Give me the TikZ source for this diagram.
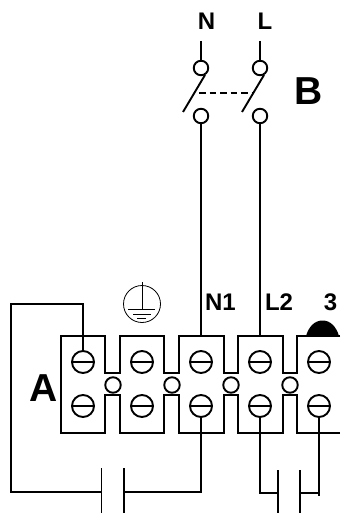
\documentclass[tikz,border=0pt]{standalone}
\usepackage{fontspec}
\setmainfont{Liberation Sans}
\begin{document}
\begin{tikzpicture}[x=1pt,y=-1pt,
  wire/.style={line width=1.9pt,line cap=butt,line join=miter},
  screwhead/.style={circle,draw,line width=1.9pt,minimum size=22pt,inner sep=0pt,
    path picture={\draw[line width=1.7pt] (path picture bounding box.west) -- (path picture bounding box.east);}},
  link/.style={circle,draw,line width=1.9pt,minimum size=15.5pt,inner sep=0pt},
  contact/.style={circle,draw,line width=1.9pt,minimum size=14.5pt,inner sep=0pt},
  lab/.style={font=\bfseries\fontsize{24}{24}\selectfont,inner sep=0pt,text height=17.2pt,text depth=0pt},
  biglab/.style={font=\bfseries\fontsize{39}{39}\selectfont,inner sep=0pt,text height=28pt,text depth=0pt}]
\useasboundingbox (0,0) rectangle (340,513);
\begin{scope}
\clip (0,0) rectangle (340,513);
% terminal block
\draw[wire] (340,336) -- (297,336) -- (297,373) -- (283,373) -- (283,336) -- (238,336) -- (238,373) -- (224,373) -- (224,336) -- (179,336) -- (179,373) -- (164,373) -- (164,336) -- (120,336) -- (120,373) -- (105,373) -- (105,336) -- (61,336) -- (61,433) -- (105,433) -- (105,395) -- (120,395) -- (120,433) -- (164,433) -- (164,395) -- (179,395) -- (179,433) -- (224,433) -- (224,395) -- (238,395) -- (238,433) -- (283,433) -- (283,395) -- (297,395) -- (297,433) -- (340,433);
\foreach \n/\x in {1/83,2/142,3/201,4/260,5/319}{
  \node[screwhead] (t\n) at (\x,362) {};
  \node[screwhead] (b\n) at (\x,406) {};
}
\foreach \n/\x in {1/113,2/172,3/231,4/290}{
  \node[link,fill=white] (k\n) at (\x,385) {};
}
% dome
\fill (306,336) .. controls (309,326) and (315,320.5) .. (322.5,320.5) .. controls (330,320.5) and (336,326) .. (339,336) -- cycle;
\end{scope}
% switch
\node[contact] (cn1) at (201,68) {};
\node[contact] (cl1) at (260,68) {};
\node[contact] (cn2) at (201,116) {};
\node[contact] (cl2) at (260,116) {};
\coordinate (fn) at (201,41);
\coordinate (fl) at (260,41);
\draw[wire] (fn) -- (cn1);
\draw[wire] (fl) -- (cl1);
\coordinate (bn1) at (205,75);
\coordinate (bn2) at (183,112);
\coordinate (bl1) at (264,75);
\coordinate (bl2) at (242,112);
\draw[wire] (bn1) -- (bn2);
\draw[wire] (bl1) -- (bl2);
\coordinate (dn) at (199,93);
\coordinate (dl) at (253,93);
\draw[wire,dash pattern=on 6.5pt off 4pt] (dn) -- (dl);
\coordinate (tn) at (201,336);
\coordinate (tl) at (260,336);
\draw[wire] (cn2) -- (tn);
\draw[wire] (cl2) -- (tl);
% capacitor left
\coordinate (c1a) at (101.5,492);
\coordinate (c1b) at (124,492);
\coordinate (w1) at (83,304);
\coordinate (w2) at (11,304);
\coordinate (w3) at (11,492);
\coordinate (w4) at (201,492);
\draw[wire] (t1.north) -- (w1) -- (w2) -- (w3) -- (c1a);
\draw[wire] (b3.south) -- (w4) -- (c1b);
\draw[wire] (101.5,468) -- (101.5,513);
\draw[wire] (124,468) -- (124,513);
% capacitor right
\coordinate (c2a) at (278,493);
\coordinate (c2b) at (300,493);
\coordinate (w5) at (260,493);
\coordinate (w6) at (319,493);
\draw[wire] (b4.south) -- (w5) -- (c2a);
\draw[wire] (b5.south) -- (319,496);
\draw[wire] (c2b) -- (w6);
\draw[wire] (278,470) -- (278,513);
\draw[wire] (300,470) -- (300,513);
% earth
\node[circle,draw,line width=0.8pt,minimum size=37pt,inner sep=0pt] (earth) at (142,304) {};
\coordinate (e0) at (142,282);
\coordinate (e1) at (142,309);
\draw[line width=0.8pt] (e0) -- (e1);
\draw[line width=0.9pt] (128,309) -- (155,309);
\draw[line width=0.9pt] (133,314) -- (151,314);
\draw[line width=0.9pt] (137,318) -- (146,318);
% labels
\node[lab] (ln) at (206.5,21) {N};
\node[lab] (ll) at (265,21) {L};
\node[lab] (ln1) at (220.5,302) {N1};
\node[lab] (ll2) at (279,302) {L2};
\node[lab] (l3) at (330.5,302) {3};
\node[biglab] (lb) at (309,91) {B};
\node[biglab] (la) at (43.5,387) {A};
\end{tikzpicture}
\end{document}
